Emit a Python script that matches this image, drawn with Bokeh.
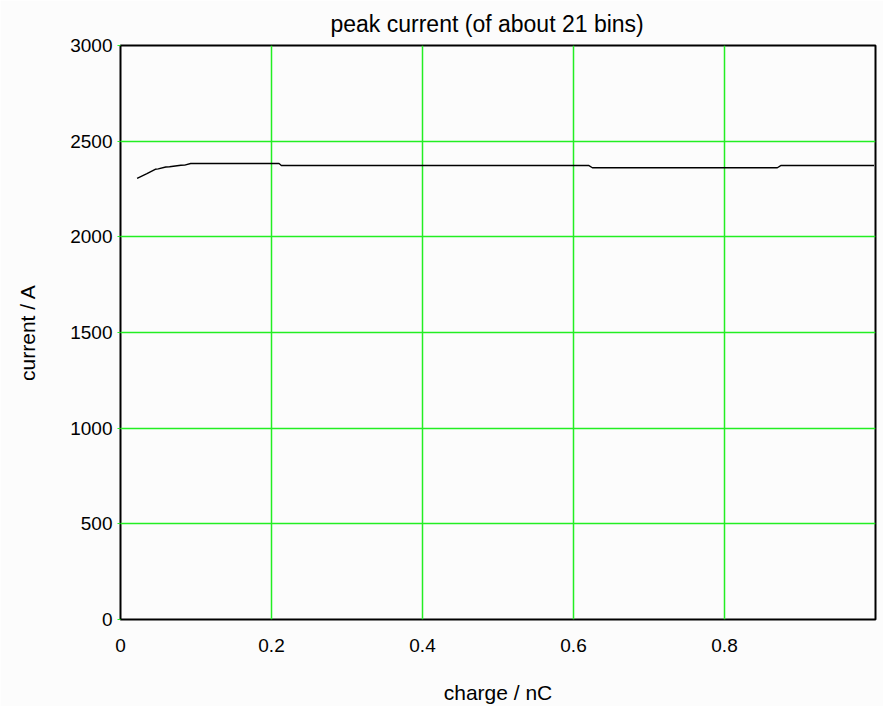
from bokeh.plotting import figure
from bokeh.models import FixedTicker, Range1d
from bokeh.embed import file_html
from bokeh.resources import INLINE

# peak current versus charge
charge_nC = [0.022, 0.035, 0.046, 0.050, 0.060, 0.065, 0.080, 0.085, 0.093,
             0.210, 0.213, 0.620, 0.625, 0.870, 0.875, 0.998]
current_A = [2305, 2330, 2353, 2355, 2365, 2366, 2374, 2375, 2383,
             2383, 2373, 2373, 2361, 2361, 2373, 2373]

x_ticks = [0, 0.2, 0.4, 0.6, 0.8]
x_tick_labels = ["0", "0.2", "0.4", "0.6", "0.8"]
y_ticks = [0, 500, 1000, 1500, 2000, 2500, 3000]

FONT = "Liberation Sans"
GREEN = "#22ee22"
BG = "#fcfcfc"

p = figure(width=883, height=706, output_backend="svg", toolbar_location=None,
           x_range=Range1d(0, 1.0), y_range=Range1d(0, 3000),
           min_border_left=120, min_border_right=8, min_border_top=45,
           min_border_bottom=86, title="peak current (of about 21 bins)")

p.background_fill_color = BG
p.border_fill_color = BG
p.outline_line_color = "black"
p.outline_line_width = 2

p.title.align = "left"
p.title.offset = 210
p.title.standoff = 17
p.title.text_font = FONT
p.title.text_font_size = "23px"
p.title.text_font_style = "normal"
p.title.text_color = "black"

p.xaxis.ticker = FixedTicker(ticks=x_ticks)
p.xaxis.major_label_overrides = {t: s for t, s in zip(x_ticks, x_tick_labels)}
p.yaxis.ticker = FixedTicker(ticks=y_ticks)

for ax in (p.xaxis[0], p.yaxis[0]):
    ax.axis_line_color = None
    ax.minor_tick_line_color = None
    ax.major_label_text_font = FONT
    ax.major_label_text_font_size = "19px"
    ax.major_label_text_color = "black"
    ax.axis_label_text_font = FONT
    ax.axis_label_text_font_size = "21px"
    ax.axis_label_text_font_style = "normal"
    ax.axis_label_text_color = "black"

p.xaxis.major_tick_line_color = None
p.xaxis.major_label_standoff = 13
p.xaxis.axis_label = "charge / nC"
p.xaxis.axis_label_standoff = 26

p.yaxis.major_tick_line_color = GREEN
p.yaxis.major_tick_in = 0
p.yaxis.major_tick_out = 3
p.yaxis.major_label_standoff = 5
p.yaxis.axis_label = "current / A"
p.yaxis.axis_label_standoff = 28

p.grid.grid_line_color = GREEN
p.grid.grid_line_width = 1.5

p.line(charge_nC, current_A, line_color="black", line_width=1.4)

open("out.html", "w").write(file_html(p, INLINE))
